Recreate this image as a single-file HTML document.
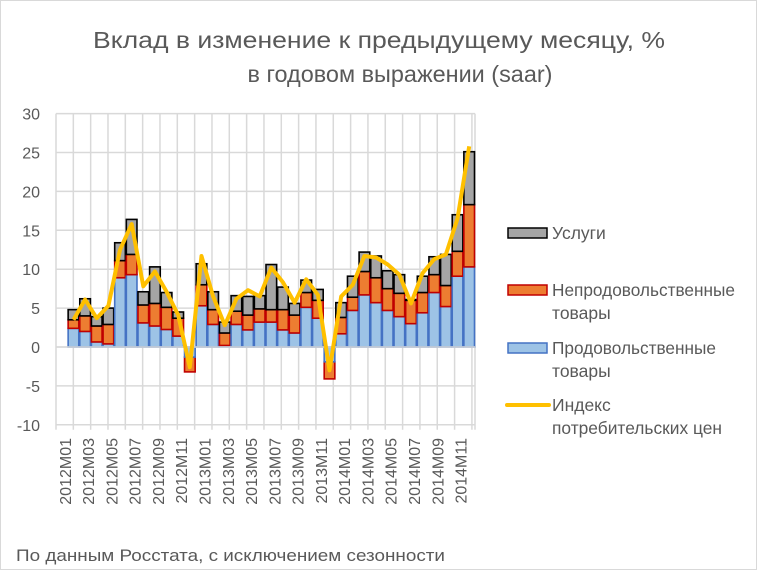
<!DOCTYPE html>
<html><head><meta charset="utf-8"><style>
html,body{margin:0;padding:0;background:#fff;}
svg{display:block;font-family:"Liberation Sans","DejaVu Sans",sans-serif;}
</style></head><body>
<svg id="c" width="757" height="570" viewBox="0 0 757 570" xmlns="http://www.w3.org/2000/svg">
<rect x="0.5" y="0.5" width="756" height="569" fill="#fff" stroke="#d9d9d9"/>
<text x="379" y="48" text-anchor="middle" font-size="23" fill="#595959" textLength="572" lengthAdjust="spacingAndGlyphs">Вклад в изменение к предыдущему месяцу, %</text>
<text x="400" y="82" text-anchor="middle" font-size="23" fill="#595959" textLength="305" lengthAdjust="spacingAndGlyphs">в годовом выражении (saar)</text>
<g id="grid"></g>
<g id="bars"></g>
<g id="line"></g>
<g id="labels" font-size="16" fill="#595959"></g>
<g font-size="17.5" fill="#595959">
<rect x="508" y="228" width="39" height="10" fill="#a5a5a5" stroke="#000" stroke-width="1.5"/>
<text x="552" y="239">Услуги</text>
<rect x="508" y="285" width="39" height="10" fill="#ed7d31" stroke="#c00000" stroke-width="1.5"/>
<text x="552" y="296" textLength="183" lengthAdjust="spacingAndGlyphs">Непродовольственные</text>
<text x="552" y="319">товары</text>
<rect x="508" y="343" width="39" height="10" fill="#9dc3e6" stroke="#4472c4" stroke-width="1.5"/>
<text x="552" y="354" textLength="164" lengthAdjust="spacingAndGlyphs">Продовольственные</text>
<text x="552" y="377">товары</text>
<line x1="507" y1="405" x2="549" y2="405" stroke="#ffc000" stroke-width="4" stroke-linecap="round"/>
<text x="552" y="411">Индекс</text>
<text x="552" y="434" textLength="170" lengthAdjust="spacingAndGlyphs">потребительских цен</text>
</g>
<text x="16" y="561" font-size="16.5" fill="#595959" textLength="429" lengthAdjust="spacingAndGlyphs">По данным Росстата, с исключением сезонности</text>
</svg>
<script>
var NS="http://www.w3.org/2000/svg";
function el(p,t,a,txt){var e=document.createElementNS(NS,t);for(var k in a)e.setAttribute(k,a[k]);if(txt!==undefined)e.textContent=txt;p.appendChild(e);return e;}
var L=56,R=475,Z=347,S=7.78,N=36,W=(R-L)/N;
function Y(v){return Z-S*v;}
var g=document.getElementById('grid');
for(var v=-10;v<=30;v+=5){el(g,'line',{x1:L,x2:R,y1:Y(v),y2:Y(v),stroke:'#d9d9d9','stroke-width':1.5});
el(document.getElementById('labels'),'text',{x:40,y:Y(v)+6,'text-anchor':'end'},String(v));}
for(var x=L;x<=R+1;x+=17.33){el(g,'line',{x1:x,x2:x,y1:Y(30),y2:Y(-10)+5,stroke:'#d9d9d9','stroke-width':1.5});}
el(g,'line',{x1:R,x2:R,y1:Y(30),y2:Y(-10)+5,stroke:'#d9d9d9','stroke-width':1.5});
var d={2:[2.4,3.5,4.8,3.5],3:[2.0,4.0,6.2,6.1],4:[0.65,2.7,3.9,3.7],5:[0.4,2.9,5.0,5.3],6:[8.9,11.1,13.4,12.5],7:[9.3,11.9,16.4,15.8],8:[3.1,5.4,7.1,7.8],9:[2.7,5.6,10.3,9.7],10:[2.25,5.1,7.0,7.1],11:[1.4,3.7,4.5,4.1],12:[-1.3,-3.2,0,-2.6],13:[5.3,8.0,10.7,11.7],14:[2.9,4.8,7.1,6.5],15:[0.2,1.8,3.2,2.8],16:[2.9,4.6,6.6,6.2],17:[2.2,4.1,6.5,7.3],18:[3.2,4.9,6.6,6.5],19:[3.2,4.8,10.6,10.2],20:[2.2,4.8,7.7,8.3],21:[1.8,4.1,5.6,5.7],22:[5.1,7.0,8.6,8.7],23:[3.7,6.0,7.4,6.7],24:[-1.9,-4.1,0,-3.0],25:[1.7,3.8,5.7,6.5],26:[4.7,6.4,9.1,8.0],27:[6.7,9.7,12.2,11.7],28:[5.7,8.9,11.7,11.5],29:[4.7,7.5,9.8,10.6],30:[3.9,6.9,9.3,9.3],31:[3.0,6.0,6.1,5.6],32:[4.4,7.0,9.1,9.5],33:[7.0,9.3,11.6,11.3],34:[5.2,7.9,11.9,11.9],35:[9.1,12.3,17.0,16.5],36:[10.3,18.3,25.1,25.8]};
var b=document.getElementById('bars');
function seg(x,a,c,fill,st){if(Math.abs(c-a)<0.01)return;var y1=Y(Math.max(a,c)),y2=Y(Math.min(a,c));el(b,'rect',{x:x,y:y1,width:W-1,height:y2-y1,fill:fill,stroke:st,'stroke-width':1.6});}
var pts=[];
for(var n=2;n<=36;n++){var q=d[n],x=L+W*(n-1)+0.5;
if(q[0]<0){seg(x,q[0],q[1],'#ed7d31','#c00000');seg(x,0,q[0],'#9dc3e6','#4472c4');}
else{seg(x,0,q[0],'#9dc3e6','#4472c4');seg(x,q[0],q[1],'#ed7d31','#c00000');if(q[2]>q[1])seg(x,q[1],q[2],'#a5a5a5','#000');}
pts.push((L+W*(n-0.5)).toFixed(1)+','+Y(q[3]).toFixed(1));}
el(b,'line',{x1:L,x2:R,y1:Z,y2:Z,stroke:'#d9d9d9','stroke-width':1.5});
el(document.getElementById('line'),'polyline',{points:pts.join(' '),fill:'none',stroke:'#ffc000','stroke-width':4,'stroke-linejoin':'round'});
var lab=document.getElementById('labels');
for(var n=1;n<=36;n+=2){var yr=2012+Math.floor((n-1)/12),m=((n-1)%12)+1;var cx=L+W*(n-0.5)+9;
el(lab,'text',{x:0,y:0,'text-anchor':'end',transform:'translate('+cx.toFixed(1)+',438) rotate(-90)'},yr+'M'+(m<10?'0':'')+m);}
</script>
</body></html>
